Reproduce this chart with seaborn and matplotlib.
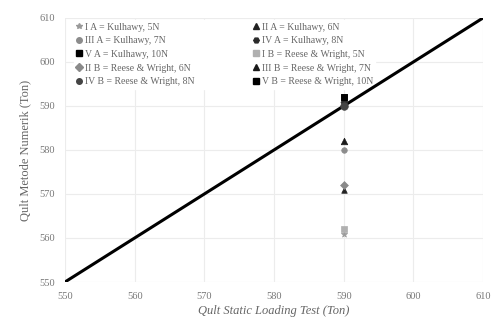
import matplotlib
matplotlib.use("Agg")
import matplotlib.pyplot as plt
import seaborn as sns
import pandas as pd

# Series definitions
labels = [
    "I A = Kulhawy, 5N", "II A = Kulhawy, 6N", "III A = Kulhawy, 7N",
    "IV A = Kulhawy, 8N", "V A = Kulhawy, 10N",
    "I B = Reese & Wright, 5N", "II B = Reese & Wright, 6N",
    "III B = Reese & Wright, 7N", "IV B = Reese & Wright, 8N",
    "V B = Reese & Wright, 10N",
]
qult_static = [590, 590, 590, 590, 590, 590, 590, 590, 590, 590]
qult_numeric = [561, 571, 580, 591, 592, 562, 572, 582, 590, 592]

# Reference line y = x
ref_line = [550, 610]

ticks = [550, 560, 570, 580, 590, 600, 610]

markers = ["*", "^", "o", "H", "s", "s", "D", "^", "o", "s"]
colors = ["#9a9a9a", "#222222", "#8c8c8c", "#2a2a2a", "#000000",
          "#b0b0b0", "#8a8a8a", "#1a1a1a", "#444444", "#000000"]
sizes = [22, 16, 16, 26, 22, 16, 16, 22, 30, 14]

df = pd.DataFrame({"static": qult_static, "numeric": qult_numeric, "series": labels})

sns.set_theme(style="white")
plt.rcParams["font.family"] = ["Liberation Serif", "DejaVu Serif"]

fig = plt.figure(figsize=(4.92, 3.31), dpi=100)
ax = fig.add_axes([0.132, 0.148, 0.850, 0.798])

ax.set_xlim(550, 610)
ax.set_ylim(550, 610)
ax.set_xticks(ticks)
ax.set_yticks(ticks)
ax.grid(True, color="#ececec", linewidth=0.8)
ax.set_axisbelow(True)
for s in ax.spines.values():
    s.set_visible(False)

sns.lineplot(x=ref_line, y=ref_line, ax=ax, color="black", linewidth=2.2, zorder=6)

handles = {}
for i, lab in enumerate(labels):
    sub = df[df["series"] == lab]
    sns.scatterplot(data=sub, x="static", y="numeric", ax=ax, marker=markers[i],
                    color=colors[i], s=sizes[i], edgecolor=colors[i], linewidth=0.5,
                    zorder=7, legend=False)
    handles[lab] = plt.Line2D([], [], linestyle="none", marker=markers[i],
                              color=colors[i], markersize=4)

# legend laid out row by row in two columns, beneath the data marks
order = [0, 2, 4, 6, 8, 1, 3, 5, 7, 9]
leg = ax.legend([handles[labels[k]] for k in order], [labels[k] for k in order],
                ncol=2, loc="upper left", bbox_to_anchor=(0.01, 1.01),
                fontsize=7, frameon=True, framealpha=1, edgecolor="white",
                handlelength=0.6, handletextpad=0.3, columnspacing=6.0,
                labelspacing=0.48, borderpad=0.25)
leg.set_zorder(1)
for t in leg.get_texts():
    t.set_color("#666666")

ax.tick_params(axis="both", labelsize=7.5, colors="#777777", length=0, pad=7)
ax.set_xlabel("Qult Static Loading Test (Ton)", fontsize=9, color="#666666",
              fontstyle="italic", labelpad=3)
ax.set_ylabel("Qult Metode Numerik (Ton)", fontsize=9, color="#666666", labelpad=6)

fig.savefig("out.png", dpi=100)
